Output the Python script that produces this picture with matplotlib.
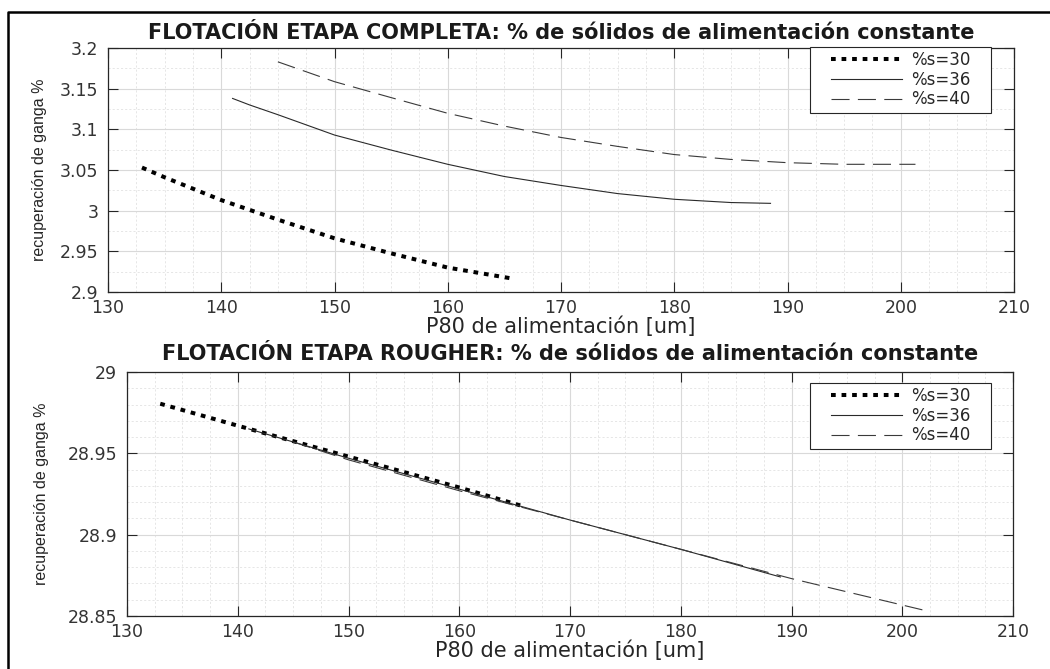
import matplotlib
matplotlib.use("Agg")
import matplotlib.pyplot as plt
from matplotlib.lines import Line2D
from matplotlib.ticker import MultipleLocator, FuncFormatter

# --- data ---
labels = ["%s=30", "%s=36", "%s=40"]

# etapa completa
c30_x = [133, 135, 140, 145, 150, 155, 160, 165.5]
c30_y = [3.053, 3.041, 3.013, 2.989, 2.966, 2.9475, 2.930, 2.917]
c36_x = [141, 142.5, 145, 150, 155, 160, 165, 170, 175, 180, 185, 188.5]
c36_y = [3.138, 3.130, 3.118, 3.093, 3.0745, 3.057, 3.042, 3.031, 3.021, 3.014, 3.010, 3.009]
c40_x = [145, 150, 155, 160, 165, 170, 175, 180, 185, 190, 195, 201.3]
c40_y = [3.183, 3.1586, 3.139, 3.1197, 3.104, 3.090, 3.079, 3.069, 3.063, 3.059, 3.057, 3.057]

# etapa rougher
r30_x = [133, 140, 150, 160, 165.5]
r30_y = [28.9805, 28.967, 28.948, 28.929, 28.918]
r36_x = [141, 150, 160, 170, 180, 189]
r36_y = [28.965, 28.947, 28.928, 28.909, 28.891, 28.874]
r40_x = [145, 150, 160, 170, 180, 190, 202.3]
r40_y = [28.957, 28.946, 28.927, 28.909, 28.891, 28.873, 28.853]

plt.rcParams['font.family'] = ['DejaVu Sans']
plt.rcParams['lines.scale_dashes'] = False

W, H = 1050, 669
fig = plt.figure(figsize=(W / 100, H / 100), dpi=100)
fig.patch.set_facecolor('white')

txt = '#262626'
styles = [
    dict(color='black', lw=2.9, linestyle=(0, (3.4, 4.2)), solid_capstyle='butt', dash_capstyle='butt'),
    dict(color='#2a2a2a', lw=0.8, linestyle='-'),
    dict(color='#3a3a3a', lw=0.8, linestyle=(0, (13, 6))),
]

leg_fs = 12
extra = 16  # extra horizontal padding of the legend box, px


def fmt(v, pos):
    return '%g' % round(v, 4)


def setup(ax, title, ylim, ymajor, yminor, legend_top, ylab_x, tpad):
    ax.set_xlim(130, 210)
    ax.set_ylim(*ylim)
    ax.xaxis.set_major_locator(MultipleLocator(10))
    ax.xaxis.set_minor_locator(MultipleLocator(2.5))
    ax.yaxis.set_major_locator(MultipleLocator(ymajor))
    ax.yaxis.set_minor_locator(MultipleLocator(yminor))
    ax.xaxis.set_major_formatter(FuncFormatter(fmt))
    ax.yaxis.set_major_formatter(FuncFormatter(fmt))
    ax.grid(which='major', color='#d9d9d9', lw=0.8)
    ax.grid(which='minor', color='#e2e2e2', lw=0.6, linestyle=(0, (1.5, 1.5)))
    ax.set_axisbelow(True)
    ax.tick_params(which='major', direction='in', length=7, width=0.8, top=True, right=True,
                   labelsize=12.5, labelcolor='#333333', color='#262626')
    ax.tick_params(axis='x', pad=5)
    ax.tick_params(axis='y', pad=7)
    ax.tick_params(which='minor', length=0)
    for s in ax.spines.values():
        s.set_color('#262626')
        s.set_linewidth(0.9)
    ax.set_title(title, fontsize=15, fontweight='bold', color='#1a1a1a', pad=tpad)
    ax.set_xlabel('P80 de alimentación [um]', fontsize=15, color=txt, labelpad=0)
    ax.set_ylabel('recuperación de ganga %', fontsize=11.5, color=txt,
                  family=['Liberation Sans', 'DejaVu Sans'])
    ax.yaxis.set_label_coords(ylab_x, 0.5)
    leg = ax.legend(loc='upper right', bbox_to_anchor=((991 - extra) / W, 1 - legend_top / H),
                    bbox_transform=fig.transFigure, borderaxespad=0, fontsize=leg_fs,
                    handlelength=4.3, handletextpad=0.55, labelspacing=0.1,
                    fancybox=False, framealpha=1, edgecolor='#262626', borderpad=0.25)
    frame = leg.get_frame()
    frame.set_linewidth(0.8)
    # widen the box sideways only
    frame.set_boxstyle('square', pad=extra / (leg_fs * 100 / 72))
    frame.set_mutation_aspect(0.001)
    for t in leg.get_texts():
        t.set_color(txt)


ax1 = fig.add_axes([108 / W, 1 - 292 / H, (1014 - 108) / W, (292 - 48) / H])
ax1.plot(c30_x, c30_y, label=labels[0], **styles[0])
ax1.plot(c36_x, c36_y, label=labels[1], **styles[1])
ax1.plot(c40_x, c40_y, label=labels[2], **styles[2])
setup(ax1, 'FLOTACIÓN ETAPA COMPLETA: % de sólidos de alimentación constante',
      (2.9, 3.2), 0.05, 0.025, 47, (47 - 108) / 906, 6.5)

ax2 = fig.add_axes([127 / W, 1 - 616 / H, (1013 - 127) / W, (616 - 372) / H])
ax2.plot(r30_x, r30_y, label=labels[0], **styles[0])
ax2.plot(r36_x, r36_y, label=labels[1], **styles[1])
ax2.plot(r40_x, r40_y, label=labels[2], **styles[2])
setup(ax2, 'FLOTACIÓN ETAPA ROUGHER: % de sólidos de alimentación constante',
      (28.85, 29.0), 0.05, 0.01, 383, (49 - 127) / 886, 8.5)

# page frame (left and top edges)
fig.add_artist(Line2D([8 / W, 8 / W, 1], [0, 1 - 12 / H, 1 - 12 / H],
                      transform=fig.transFigure, color='black', lw=1.8))

fig.savefig('out.png', dpi=100)
